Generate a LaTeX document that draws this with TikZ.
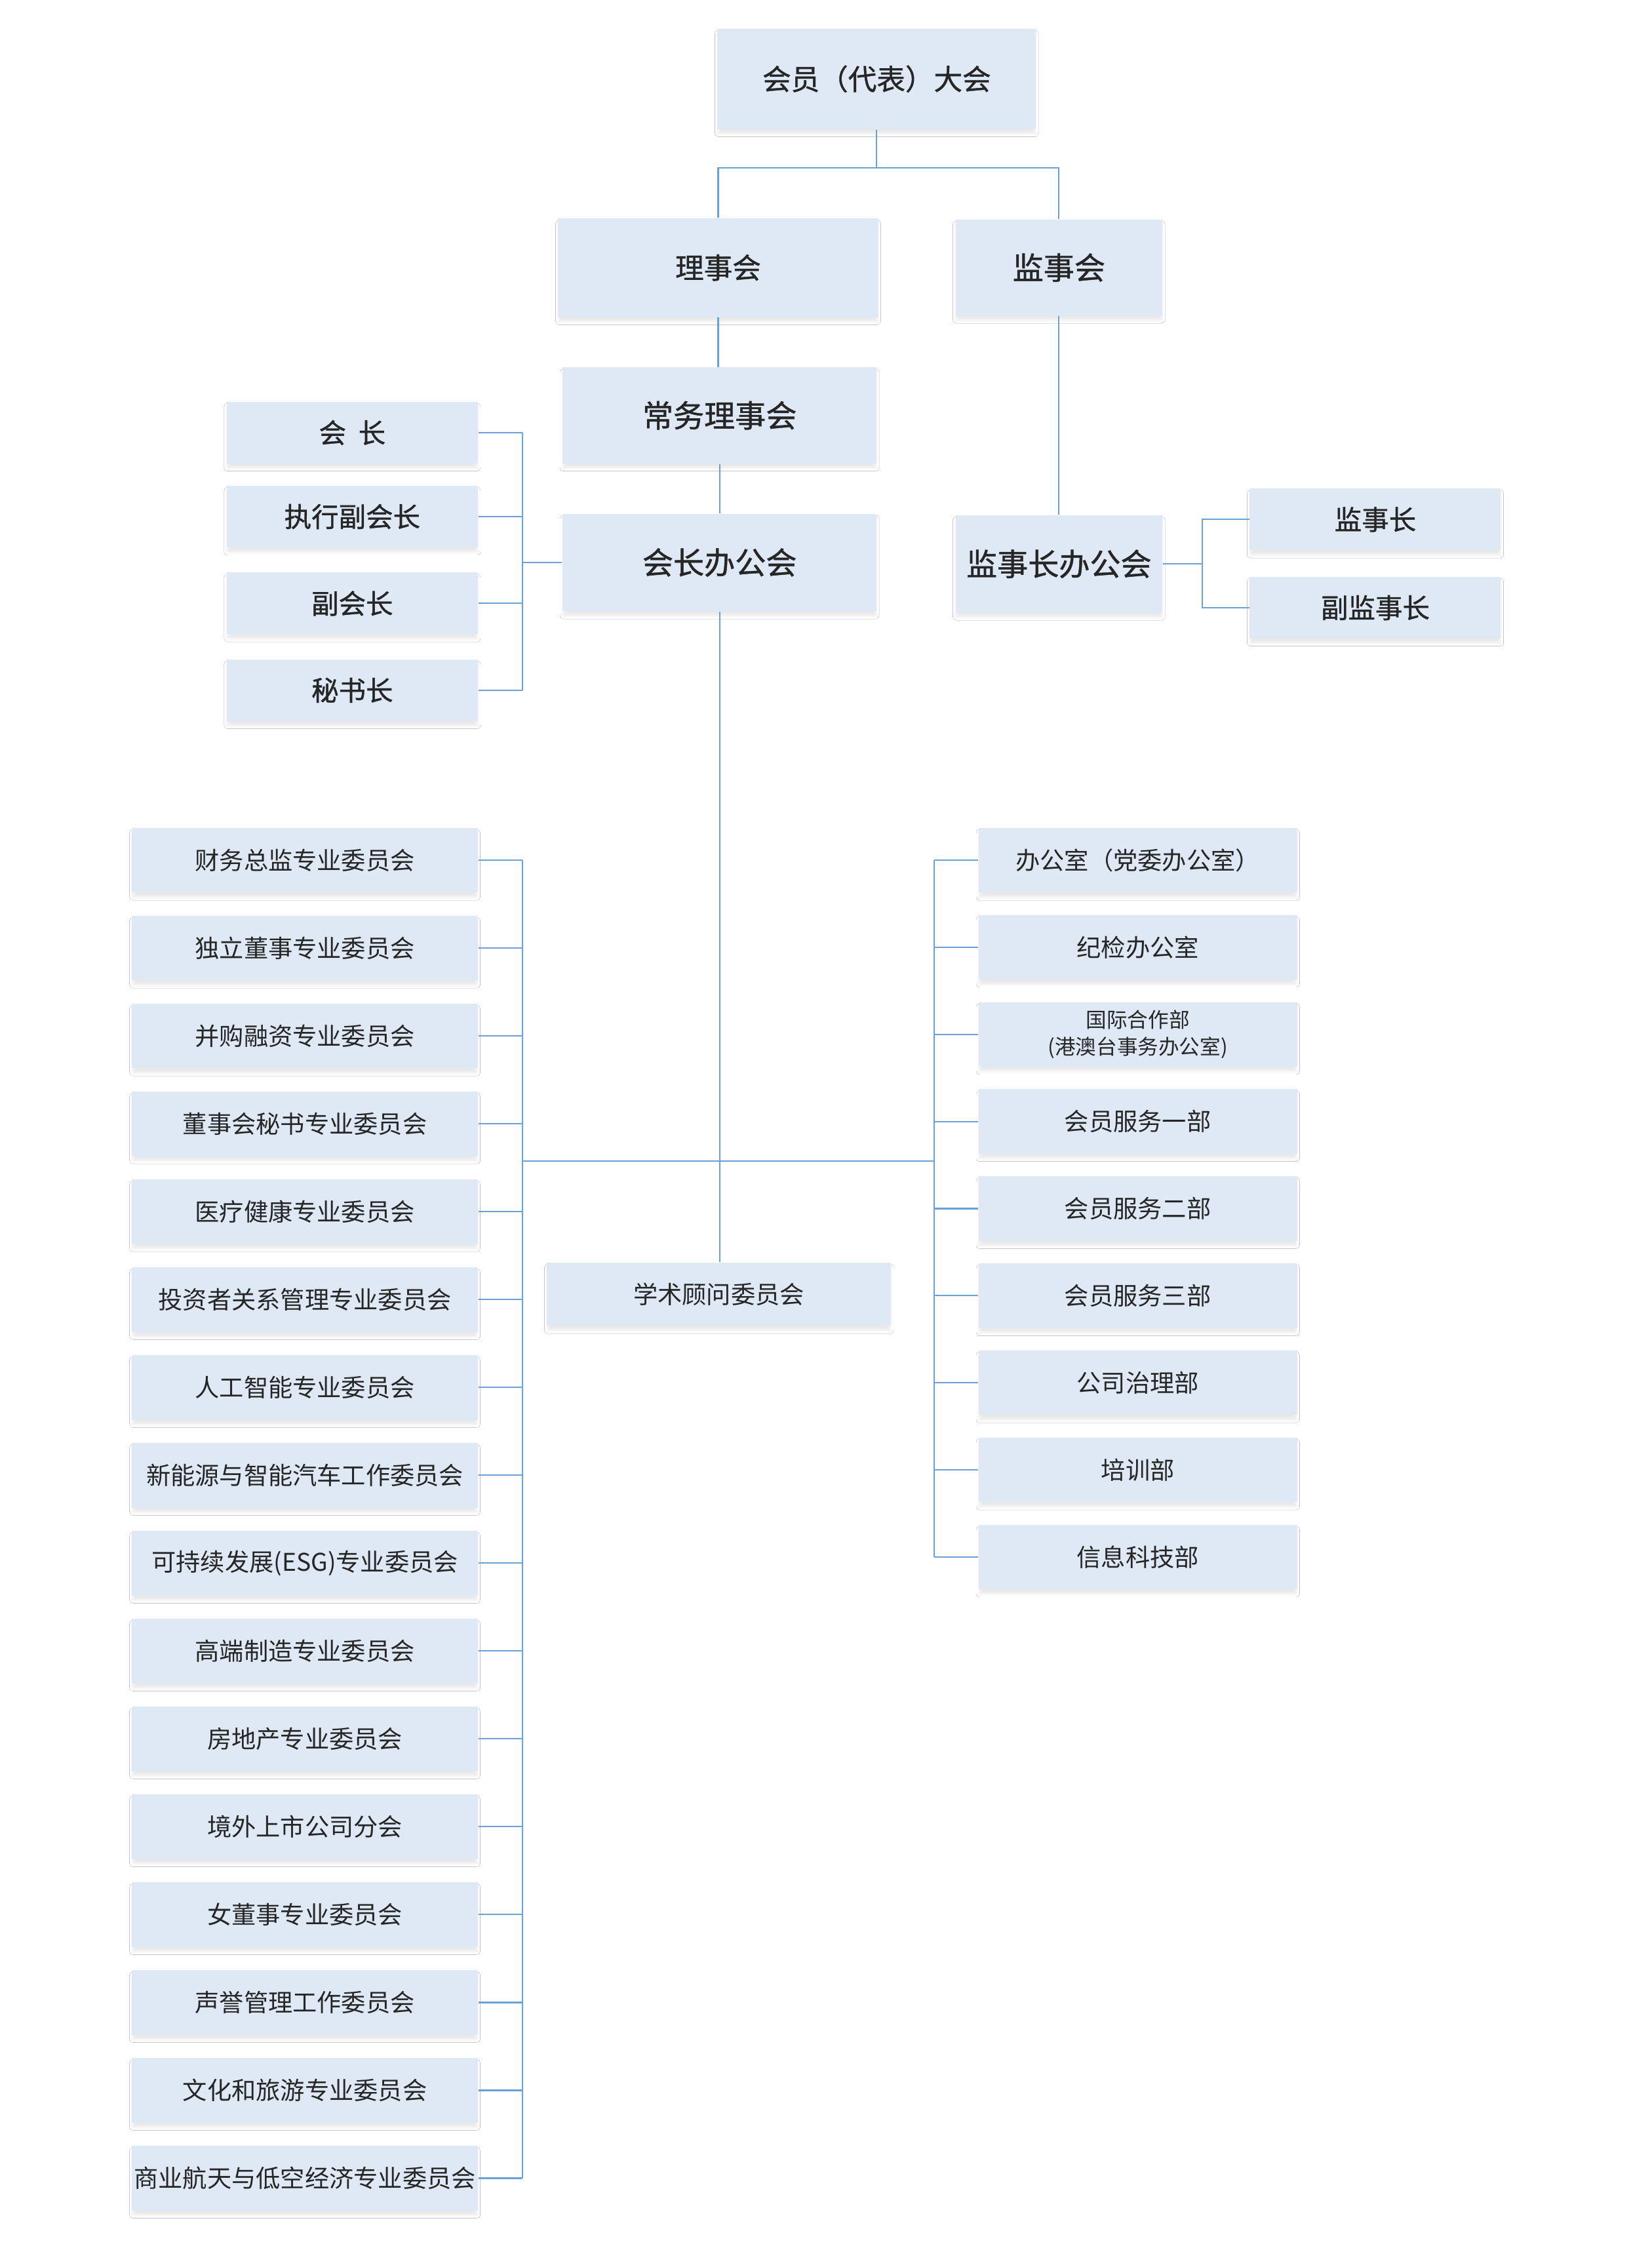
\documentclass[tikz,border=0pt]{standalone}
\usepackage{fontspec}
\setmainfont{Noto Sans CJK SC}
\newfontfamily\medfont[FakeBold=1]{Noto Sans CJK SC}
\usetikzlibrary{shadows.blur}
\definecolor{boxfill}{RGB}{222,233,245}
\definecolor{linec}{RGB}{108,160,216}
\definecolor{txt}{RGB}{38,38,38}
\def\u{0.21894mm}
\begin{document}
\begin{tikzpicture}[x=0.21894mm, y=-0.21894mm,
  box/.style={fill=boxfill, draw=none, inner sep=0pt, text=txt, align=center,
    blur shadow={shadow xshift=0pt, shadow yshift=-0.7mm, shadow blur radius=0.5mm, shadow opacity=9, shadow scale=0.995}},
  sz/.style 2 args={minimum width=#1*\u, minimum height=#2*\u},
  fa/.style={font=\medfont\fontsize{12.4}{15}\selectfont},
  fb/.style={font=\medfont\fontsize{13.4}{16}\selectfont},
  fc/.style={font=\medfont\fontsize{11.8}{14}\selectfont},
  fd/.style={font=\fontsize{10.6}{13}\selectfont},
  fe/.style={font=\fontsize{9}{11.5}\selectfont},
  conn/.style={draw=linec, line width=0.6pt}]
\useasboundingbox (0,0) rectangle (1151,1568);
\fill[white] (0,0) rectangle (1151,1568);

% upper level
\node[box, sz={222}{70}, fa] (top) at (611,55) {会员（代表）大会};
\node[box, sz={223}{69}, fa] (lsh) at (500.5,186.5) {理事会};
\node[box, sz={144}{67}, fb] (jsh) at (738,186.5) {监事会};
\node[box, sz={219}{67}, fb] (cw) at (501.5,289.5) {常务理事会};
\node[box, sz={219}{68}, fb] (hzb) at (501.5,392) {会长办公会};
\node[box, sz={144}{68}, fb] (jzb) at (738,393) {监事长办公会};

\node[box, sz={175}{43}, fc] (p1) at (245.5,301.5) {会\hspace{0.45em}长};
\node[box, sz={175}{43}, fc] (p2) at (245.5,360) {执行副会长};
\node[box, sz={175}{43}, fc] (p3) at (245.5,420.5) {副会长};
\node[box, sz={175}{43}, fc] (p4) at (245.5,481) {秘书长};

\node[box, sz={175}{43}, fc] (s1) at (958.5,362) {监事长};
\node[box, sz={175}{43}, fc] (s2) at (958.5,423.5) {副监事长};

\node[box, sz={240}{44}, fd] (xs) at (501,902) {学术顾问委员会};

% left committees
\foreach \t [count=\i from 0] in {财务总监专业委员会,独立董事专业委员会,并购融资专业委员会,董事会秘书专业委员会,医疗健康专业委员会,投资者关系管理专业委员会,人工智能专业委员会,新能源与智能汽车工作委员会,可持续发展(ESG)专业委员会,高端制造专业委员会,房地产专业委员会,境外上市公司分会,女董事专业委员会,声誉管理工作委员会,文化和旅游专业委员会,商业航天与低空经济专业委员会}
  {\node[box, sz={241}{45}, fd] (L\i) at (212.5,{599.5+61.23*\i}) {\t};}

% right departments
\foreach \i in {0,...,8}
  {\node[box, sz={222}{45}, fd] (R\i) at (793,{599.5+60.69*\i}) {};}
\foreach \i in {0,1,3,4,5,6,7,8}
  {\path (R\i) node[fd, text=txt] {\ifcase\i 办公室（党委办公室）\or 纪检办公室\or \or 会员服务一部\or 会员服务二部\or 会员服务三部\or 公司治理部\or 培训部\or 信息科技部\fi};}
\node[fe, text=txt, align=center, inner sep=0pt] (R2t) at (R2) {国际合作部\\(港澳台事务办公室)};

% connectors
\coordinate (j1) at (611,117);
\draw[conn] (top.south) -- (j1);
\draw[conn] (lsh.north) |- (j1) -| (jsh.north);
\draw[conn] (lsh.south) -- (lsh.south |- cw.north);
\draw[conn] (cw.south) -- (hzb.north);
\draw[conn] (hzb.south) -- (hzb.south |- xs.north);
\draw[conn] (jsh.south) -- (jzb.north);

\coordinate (pb) at (364,392);
\foreach \i in {1,...,4} \draw[conn] (p\i.east) -- (p\i.east -| pb);
\draw[conn] (p1.east -| pb) -- (p4.east -| pb);
\draw[conn] (pb) -- (hzb.west);

\coordinate (sb) at (838,393);
\draw[conn] (jzb.east) -- (sb);
\draw[conn] (s1.west) -| (sb) |- (s2.west);

\coordinate (lj) at (364,809);
\coordinate (rj) at (651,809);
\draw[conn] (lj) -- (rj);
\foreach \i in {0,...,15} \draw[conn] (L\i.east) -- (L\i.east -| lj);
\draw[conn] (L0.east -| lj) -- (L15.east -| lj);
\foreach \i in {0,...,8} \draw[conn] (R\i.west) -- (R\i.west -| rj);
\draw[conn] (R0.west -| rj) -- (R8.west -| rj);
\end{tikzpicture}
\end{document}
